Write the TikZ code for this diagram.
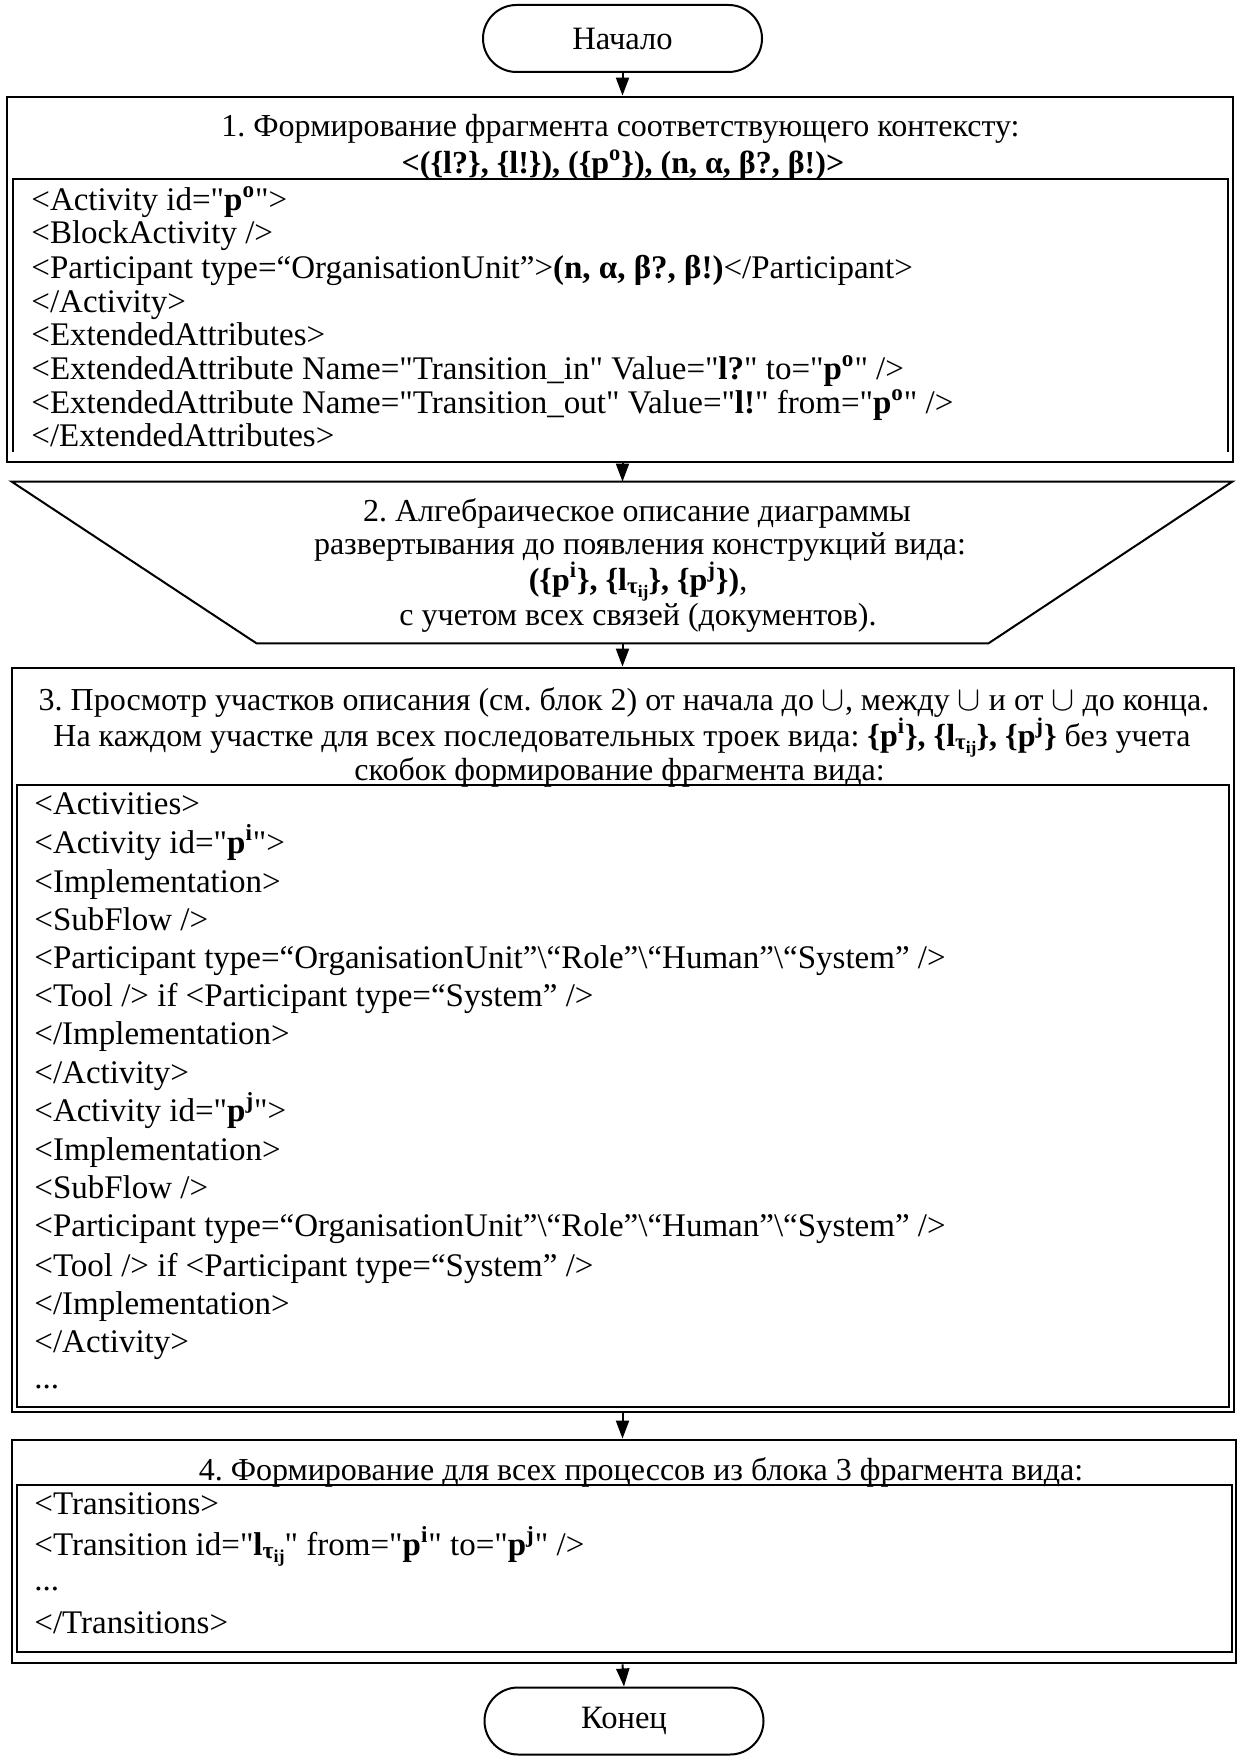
\documentclass[tikz,border=0pt]{standalone}
\usepackage{fontspec}
\usepackage{graphicx}
\setmainfont{Liberation Serif}[Ligatures=TeXOff]
\usetikzlibrary{shapes.misc,arrows.meta,calc}
\frenchspacing
\newcommand{\pS}[1]{\textbf{p}\smash{\textsuperscript{\textbf{#1}}}}
\newcommand{\pT}[1]{p\smash{\textsuperscript{#1}}}
\newcommand{\ltij}{\textbf{l}\smash{\raisebox{-0.2ex}{\scalebox{0.72}{\textbf{τ}}}\raisebox{-0.5ex}{\scalebox{0.55}{\textbf{ij}}}}}
\newcommand{\bsl}{\textbackslash}
\begin{document}
\begin{tikzpicture}[x=0.5pt,y=-0.5pt,
  every node/.style={font=\fontsize{16.3}{19}\selectfont},
  frame/.style={draw, line width=1.4pt, inner sep=0pt},
  innerbox/.style={draw, line width=1pt},
  ln/.style={anchor=mid west, inner sep=0pt, yshift=-2.8pt, text height=0.68em, text depth=0.18em, font=\fontsize{16.5}{19}\selectfont},
  lnb/.style={anchor=base west, inner sep=0pt, text height=0.68em, text depth=0.18em, font=\fontsize{16.5}{19}\selectfont},
  ttl/.style={anchor=mid, inner sep=0pt, yshift=-2.8pt, text height=0.68em, text depth=0.18em, font=\fontsize{16}{19}\selectfont},
  term/.style={rounded rectangle, draw, line width=1pt, minimum width=139.5pt, minimum height=33.5pt, inner sep=0pt},
  flow/.style={-{Triangle[length=9pt,width=6.5pt]}, line width=1pt}]
\useasboundingbox (0,0) rectangle (1240,1760);
\clip (0,0) rectangle (1240,1760);

% terminals
\node[term] (start) at (622.5,38.5) {\raisebox{-1pt}{Начало}};
\node[term] (end) at (624,1721) {\raisebox{-1pt}{Конец}};

% block 1
\node[frame, minimum width=613pt, minimum height=182.5pt] (b1) at (620,279.5) {};
\draw[innerbox] (13,452) -- (13,179) -- (1228,179) -- (1228,452);
\node[ttl] (t1a) at (620.5,126) {1. Формирование фрагмента соответствующего контексту:};
\node[ttl] (t1b) at (623,163) {\textbf{<(\{l?\}, \{l!\}), (\{\pT{o}\}), (n, α, β?, β!)>}};
\node[ln] (l1a) at (31,200) {<Activity id="\pS{o}">};
\node[ln] (l1b) at (31,233.5) {<BlockActivity />};
\node[ln] (l1c) at (31,268) {<Participant type=“OrganisationUnit”>\textbf{(n, α, β?, β!)}</Participant>};
\node[ln] (l1d) at (31,302) {</Activity>};
\node[ln] (l1e) at (31,335.5) {<ExtendedAttributes>};
\node[ln] (l1f) at (31,369) {<ExtendedAttribute Name="Transition\_in" Value="\textbf{l?}" to="\pS{o}" />};
\node[ln] (l1g) at (31,403) {<ExtendedAttribute Name="Transition\_out" Value="\textbf{l!}" from="\pS{o}" />};
\node[ln] (l1h) at (31,436.5) {</ExtendedAttributes>};

% block 2 (trapezoid)
\node[minimum width=610pt, minimum height=80.5pt, inner sep=0pt] (b2) at (622,562.5) {};
\draw[line width=1pt] (b2.north west) -- (b2.north east) -- ($(b2.south east)+(-244,0)$) -- ($(b2.south west)+(245,0)$) -- cycle;
\node[ttl] (t2a) at (637,511) {2. Алгебраическое описание диаграммы};
\node[ttl] (t2b) at (640,544) {развертывания до появления конструкций вида:};
\node[ttl] (t2c) at (638,580) {\textbf{(\{\pT{i}\}, \{\ltij\}, \{\pT{j}\})},};
\node[ttl] (t2d) at (638,615) {с учетом всех связей (документов).};

% block 3
\node[frame, minimum width=611pt, minimum height=372pt] (b3) at (623,1040) {};
\draw[innerbox] (17,785) rectangle (1229,1407);
\node[ttl] (t3a) at (624,700) {3. Просмотр участков описания (см. блок 2) от начала до $\cup$, между $\cup$ и от $\cup$ до конца.};
\node[ttl] (t3b) at (622,736) {На каждом участке для всех последовательных троек вида: \textbf{\{\pT{i}\}, \{\ltij\}, \{\pT{j}\}} без учета};
\node[ttl] (t3c) at (619.5,770) {скобок формирование фрагмента вида:};
\node[ln] (l3a) at (34,804.5) {<Activities>};
\node[ln] (l3b) at (34,843) {<Activity id="\pS{i}">};
\node[ln] (l3c) at (34,882) {<Implementation>};
\node[ln] (l3d) at (34,920) {<SubFlow />};
\node[ln] (l3e) at (34,958.5) {<Participant type=“OrganisationUnit”\bsl“Role”\bsl“Human”\bsl“System” />};
\node[ln] (l3f) at (34,996.5) {<Tool /> if <Participant type=“System” />};
\node[ln] (l3g) at (34,1034.5) {</Implementation>};
\node[ln] (l3h) at (34,1073) {</Activity>};
\node[ln] (l3i) at (34,1111) {<Activity id="\pS{j}">};
\node[ln] (l3j) at (34,1150) {<Implementation>};
\node[ln] (l3k) at (34,1188.5) {<SubFlow />};
\node[ln] (l3l) at (34,1226.5) {<Participant type=“OrganisationUnit”\bsl“Role”\bsl“Human”\bsl“System” />};
\node[ln] (l3m) at (34,1266) {<Tool /> if <Participant type=“System” />};
\node[ln] (l3n) at (34,1304) {</Implementation>};
\node[ln] (l3o) at (34,1342) {</Activity>};
\node[lnb] (l3p) at (34,1388) {...};

% block 4
\node[frame, minimum width=612pt, minimum height=111.5pt] (b4) at (624,1551.5) {};
\draw[innerbox] (17,1485) rectangle (1232,1652);
\node[ttl] (t4a) at (641,1470) {4. Формирование для всех процессов из блока 3 фрагмента вида:};
\node[ln] (l4a) at (34,1504) {<Transitions>};
\node[ln] (l4b) at (34,1545) {<Transition id="\ltij" from="\pS{i}" to="\pS{j}" />};
\node[lnb] (l4c) at (34,1590) {...};
\node[ln] (l4d) at (34,1623) {</Transitions>};

% connectors
\draw[flow] (start.south) -- (start.south |- b1.north);
\draw[flow] (start.south |- b1.south) -- (start.south |- b2.north);
\draw[flow] (start.south |- b2.south) -- (start.south |- b3.north);
\draw[flow] (start.south |- b3.south) -- (start.south |- b4.north);
\draw[flow] (start.south |- b4.south) -- (end.north);
\end{tikzpicture}
\end{document}
